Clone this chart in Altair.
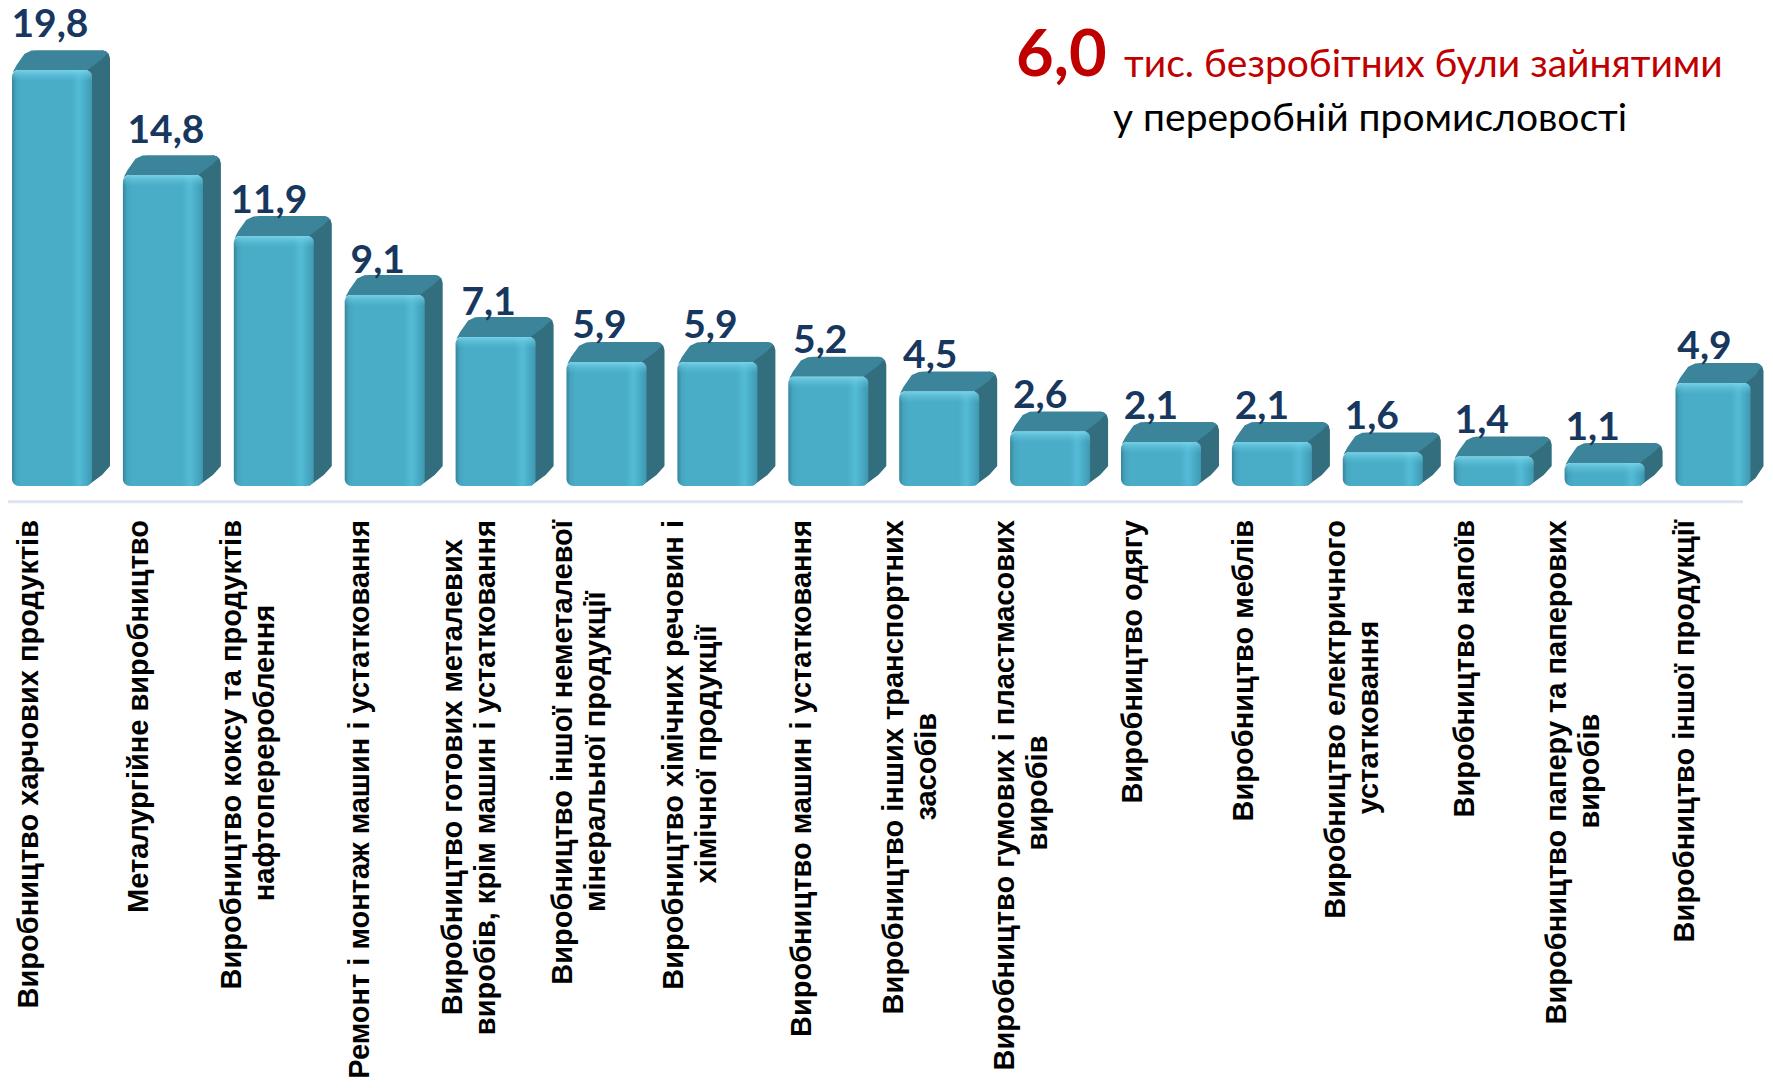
import math
import altair as alt
import pandas as pd

values = [19.8, 14.8, 11.9, 9.1, 7.1, 5.9, 5.9, 5.2, 4.5, 2.6, 2.1, 2.1, 1.6, 1.4, 1.1, 4.9]
value_texts = ["19,8", "14,8", "11,9", "9,1", "7,1", "5,9", "5,9", "5,2", "4,5", "2,6", "2,1", "2,1", "1,6", "1,4", "1,1", "4,9"]
categories = [
    ["Виробництво харчових продуктів"],
    ["Металургійне виробництво"],
    ["Виробництво коксу та продуктів", "нафтоперероблення"],
    ["Ремонт і монтаж машин і устатковання"],
    ["Виробництво готових металевих", "виробів, крім машин і устатковання"],
    ["Виробництво іншої неметалевої", "мінеральної продукції"],
    ["Виробництво хімічних речовин і", "хімічної продукції"],
    ["Виробництво машин і устатковання"],
    ["Виробництво інших транспортних", "засобів"],
    ["Виробництво гумових і пластмасових", "виробів"],
    ["Виробництво одягу"],
    ["Виробництво меблів"],
    ["Виробництво електричного", "устатковання"],
    ["Виробництво напоїв"],
    ["Виробництво паперу та паперових", "виробів"],
    ["Виробництво іншої продукції"],
]
headline_number = "6,0"
headline_rest = "тис. безробітних були зайнятими"
headline_second = "у переробній промисловості"

# ---- layout (in pixels of the reference; converted into scale units below)
W, H = 1757, 1072
PITCH, ZERO_PX, PX_PER_UNIT = 110.9, 478.0, 21.0
FRONT_W, DEPTH_X, DEPTH_Y = 80.0, 18.0, 20.0
X0 = 44.0
x_dom = [-X0 / PITCH, (W - X0) / PITCH]
y_dom = [(ZERO_PX - H) / PX_PER_UNIT, ZERO_PX / PX_PER_UNIT]
hw = FRONT_W / 2 / PITCH
dx = DEPTH_X / PITCH
dy = DEPTH_Y / PX_PER_UNIT
cx = 8 / PITCH
cy = 8 / PX_PER_UNIT
label_nudge = [-2, 3, -5, -7, -7, -7, -7, -8, -9, -10, -10, -10, -11, -12, -12, -11]
label_drop = [0, -1, 7, 7, 6, 3, 3, 3, 3, 2, 2, 2, 2, 1, 2, 3]

CHAR_W = {"В": .722, "М": .833, "Р": .722, " ": .278, ",": .278, "а": .556, "б": .611, "в": .584, "г": .389,
          "д": .625, "е": .556, "ж": .778, "з": .5, "и": .611, "й": .611, "к": .5, "л": .584, "м": .75,
          "н": .611, "о": .611, "п": .611, "р": .611, "с": .556, "т": .458, "у": .556, "х": .556, "ц": .625,
          "ч": .584, "ш": .875, "щ": .9, "ь": .584, "я": .584, "і": .278, "ї": .278, "є": .556, "ю": .84}
LABEL_FS = 29.0
LABEL_TOP_U = (ZERO_PX - (520 - 8)) / PX_PER_UNIT


def text_w(s):
    return sum(CHAR_W.get(c, .58) for c in s) * LABEL_FS


front, side, top, vals, lines_long, lines_short = [], [], [], [], [], []
for i, v in enumerate(values):
    l, r = i - hw, i + hw
    dxi = dx
    if i == 15:
        r -= 5 / PITCH
        dxi = 13 / PITCH
    front.append({"i": i, "v": v, "l": l, "r": r, "zero": 0.0, "cap": v - 0.55})
    R, T = r + dxi, v + dy
    ccx = min(cx, dxi * 0.6)
    # arc of the rear right corner, shared by the top and the side face
    arc = [(R - ccx + ccx * math.sin(a), T - cy + cy * math.cos(a)) for a in (0.0, 0.5, 1.0, 1.57)]
    side.append({"i": i, "x": r - cx * .6, "y": v + .25, "y2": 0.0})
    for ax, ay in arc:
        side.append({"i": i, "x": ax, "y": ay, "y2": dy * max(0.0, (ax - r) / dxi)})
    top.append({"i": i, "x": l + cx * .1, "y": v - .1, "y2": v - .1})
    top.append({"i": i, "x": l + dx * .25, "y": v + dy * .25, "y2": v})
    top.append({"i": i, "x": l + dx * .7, "y": v + dy * .82, "y2": v})
    top.append({"i": i, "x": l + dx + cx * .2, "y": T - .02, "y2": v})
    top.append({"i": i, "x": l + dx + cx * .9, "y": T, "y2": v})
    top.append({"i": i, "x": r - cx * .6, "y": T, "y2": v})
    for ax, ay in arc:
        top.append({"i": i, "x": ax, "y": ay, "y2": min(ay, v + dy * max(0.0, (ax - r) / dxi))})
    vals.append({"x": i + label_nudge[i] / PITCH,
                 "y": 1.162 + 1.0214 * v - label_drop[i] / PX_PER_UNIT, "t": value_texts[i]})
    parts = categories[i]
    widths = [text_w(p) for p in parts]
    longest = max(widths)
    offs = [-14] if len(parts) == 1 else [-32, 1]
    for p, o, w_ in zip(parts, offs, widths):
        lx = i + (o - 0.47 * i) / PITCH
        if w_ == longest:
            lines_long.append({"x": lx, "y": LABEL_TOP_U, "t": p})
        else:
            lines_short.append({"x": lx, "y": LABEL_TOP_U - longest / 2 / PX_PER_UNIT, "t": p})

X = alt.X("x:Q", axis=None, scale=alt.Scale(domain=x_dom, nice=False, zero=False))
Y = alt.Y("y:Q", axis=None, scale=alt.Scale(domain=y_dom, nice=False, zero=False))
XL = alt.X("l:Q", axis=None, scale=alt.Scale(domain=x_dom, nice=False, zero=False))
YV = alt.Y("v:Q", axis=None, scale=alt.Scale(domain=y_dom, nice=False, zero=False))
YS = alt.Y("y:Q", axis=None, stack=None, scale=alt.Scale(domain=y_dom, nice=False, zero=False))

side_l = alt.Chart(pd.DataFrame(side)).mark_area(color="#336E7F", clip=False).encode(
    x=X, y=YS, y2="y2:Q", detail="i:N")
top_l = alt.Chart(pd.DataFrame(top)).mark_area(color="#3B8499", clip=False).encode(
    x=X, y=YS, y2="y2:Q", detail="i:N")

face_grad = alt.Gradient(
    gradient="linear", x1=0, x2=1, y1=0, y2=0,
    stops=[
        alt.GradientStop(offset=0, color="#37849B"),
        alt.GradientStop(offset=0.05, color="#45A4BE"),
        alt.GradientStop(offset=0.12, color="#4AADC8"),
        alt.GradientStop(offset=0.74, color="#4AADC8"),
        alt.GradientStop(offset=0.84, color="#54BBD6"),
        alt.GradientStop(offset=0.91, color="#4AADC8"),
        alt.GradientStop(offset=1, color="#3F98B1"),
    ])
cap_grad = alt.Gradient(
    gradient="linear", x1=0, x2=0, y1=0, y2=1,
    stops=[
        alt.GradientStop(offset=0, color="rgba(130,220,240,0.75)"),
        alt.GradientStop(offset=1, color="rgba(90,190,215,0)"),
    ])
front_l = alt.Chart(pd.DataFrame(front)).mark_bar(fill=face_grad, cornerRadius=7, clip=False).encode(
    x=XL, x2="r:Q", y=YV, y2="zero:Q")
cap_l = alt.Chart(pd.DataFrame(front)).mark_bar(
    fill=cap_grad, cornerRadiusTopLeft=7, cornerRadiusTopRight=7, clip=False).encode(
    x=XL, x2="r:Q", y=YV, y2="cap:Q")

base_l = alt.Chart(pd.DataFrame({"x": [x_dom[0]], "x2": [(1743 - 8 - X0) / PITCH], "y": [-0.75]})).mark_rule(
    color="#DCE4F0", strokeWidth=3).encode(x=X, x2="x2:Q", y=Y)

val_l = alt.Chart(pd.DataFrame(vals)).mark_text(
    font="Lato", fontWeight="bold", fontSize=39, color="#17375E", align="center", baseline="alphabetic"
).encode(x=X, y=Y, text="t:N")
cat_long = alt.Chart(pd.DataFrame(lines_long)).mark_text(
    font="Liberation Sans", fontWeight="bold", fontSize=LABEL_FS, color="#000000", angle=270,
    align="right", baseline="alphabetic"
).encode(x=X, y=Y, text="t:N")
cat_short = alt.Chart(pd.DataFrame(lines_short)).mark_text(
    font="Liberation Sans", fontWeight="bold", fontSize=LABEL_FS, color="#000000", angle=270,
    align="center", baseline="alphabetic"
).encode(x=X, y=Y, text="t:N")

head = pd.DataFrame({"a": [headline_number], "b": [headline_rest], "c": [headline_second]})
h1 = alt.Chart(head).mark_text(font="Lato", fontWeight="bold", fontSize=65, color="#C00000",
                               align="left", baseline="alphabetic").encode(
    x=alt.value(1008), y=alt.value(68), text="a:N")
h2 = alt.Chart(head).mark_text(font="Lato", fontSize=39, color="#C00000",
                               align="left", baseline="alphabetic").encode(
    x=alt.value(1116), y=alt.value(69), text="b:N")
h3 = alt.Chart(head).mark_text(font="Lato", fontSize=39, color="#000000",
                               align="left", baseline="alphabetic").encode(
    x=alt.value(1105), y=alt.value(123), text="c:N")

chart = alt.layer(base_l, side_l, top_l, front_l, cap_l, val_l, cat_long, cat_short, h1, h2, h3).properties(
    width=W, height=H, padding=0, background="white",
    autosize=alt.AutoSizeParams(type="none"),
).configure_view(stroke=None).resolve_scale(x="shared", y="shared")

chart.save("out.html", embed_options={"renderer": "svg", "actions": False})
